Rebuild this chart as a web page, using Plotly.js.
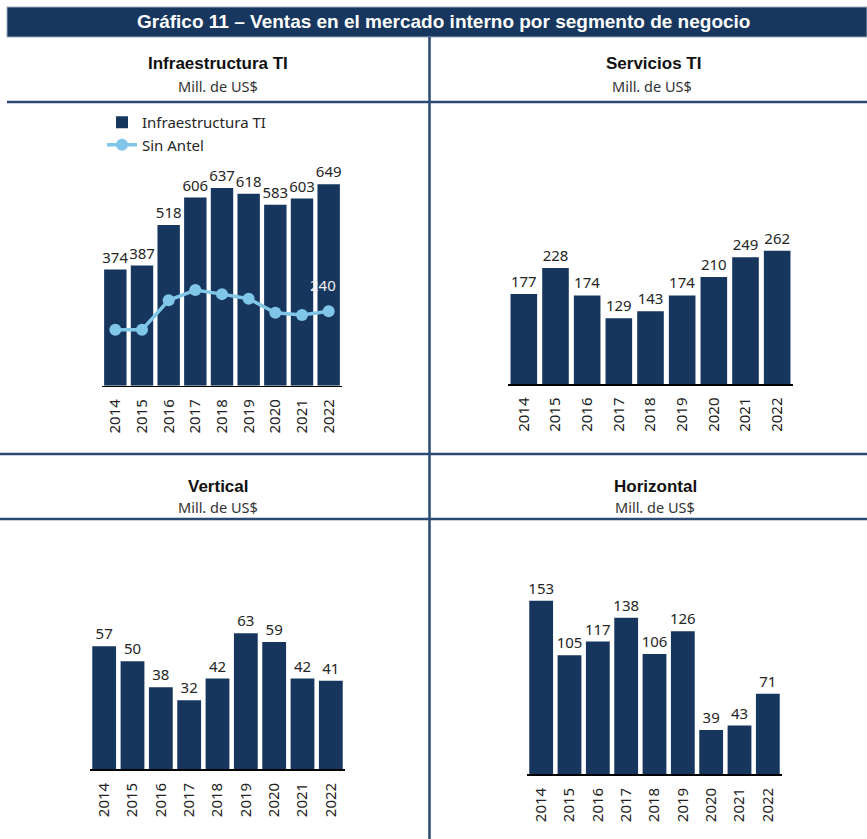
<!DOCTYPE html>
<html>
<head>
<meta charset="utf-8">
<script src="https://cdn.plot.ly/plotly-3.0.1.min.js"></script>
<style>html,body{margin:0;padding:0;background:#fff;}#chart{width:867px;height:839px;}</style>
</head>
<body>
<div id="chart"></div>
<script>
const years = ['2014','2015','2016','2017','2018','2019','2020','2021','2022'];
const infraTI = [374, 387, 518, 606, 637, 618, 583, 603, 649];
const sinAntel = [180, 180, 275, 308, 295, 280, 235, 228, 240];
const serviciosTI = [177, 228, 174, 129, 143, 174, 210, 249, 262];
const vertical = [57, 50, 38, 32, 42, 63, 59, 42, 41];
const horizontal = [153, 105, 117, 138, 106, 126, 39, 43, 71];

const W = 867, H = 839;
const X = p => p / W;
const Y = p => 1 - p / H;

const NAVY = '#17365D';
const LINEBLUE = '#80C6E8';
const TXT = '#262626';
const FONT = 'Noto Sans, sans-serif';
const BOLDF = 'Liberation Sans, Arial, sans-serif';

function barTrace(vals, xa, ya, name, showlegend) {
  return {
    type: 'bar', x: years, y: vals, name: name, xaxis: xa, yaxis: ya,
    marker: {color: NAVY, line: {width: 0}},
    text: vals.map(String), textposition: 'outside', constraintext: 'none',
    cliponaxis: false,
    textfont: {family: FONT, size: 15, color: TXT},
    showlegend: showlegend, hoverinfo: 'x+y'
  };
}

const traces = [
  barTrace(infraTI, 'x', 'y', 'Infraestructura TI', true),
  {
    type: 'scatter', mode: 'lines+markers', x: years, y: sinAntel, name: 'Sin Antel',
    xaxis: 'x', yaxis: 'y',
    line: {color: LINEBLUE, width: 3.5},
    marker: {color: LINEBLUE, size: 12},
    showlegend: true
  },
  barTrace(serviciosTI, 'x2', 'y2', 'Servicios TI', false),
  barTrace(vertical, 'x3', 'y3', 'Vertical', false),
  barTrace(horizontal, 'x4', 'y4', 'Horizontal', false)
];

function xax(x0, x1, anchor) {
  return {
    domain: [X(x0), X(x1)], anchor: anchor, type: 'category',
    range: [-0.5, years.length - 0.5], autorange: false,
    showline: true, linecolor: '#000', linewidth: 1.5,
    ticks: '', tickangle: -90, showgrid: false, zeroline: false,
    ticklabelstandoff: 6,
    tickfont: {family: FONT, size: 15, color: '#222'}, fixedrange: true
  };
}
function yax(top, bottom, max, anchor) {
  return {
    domain: [Y(bottom), Y(top)], anchor: anchor, range: [0, max],
    visible: false, showgrid: false, zeroline: false, fixedrange: true
  };
}

const lineShape = (x0, y0, x1, y1) => ({
  type: 'line', xref: 'paper', yref: 'paper',
  x0: X(x0), y0: Y(y0), x1: X(x1), y1: Y(y1),
  line: {color: '#2A4A74', width: 2.5}
});

const shapes = [
  {type: 'rect', xref: 'paper', yref: 'paper', x0: X(7), x1: X(867), y0: Y(37), y1: Y(7),
   fillcolor: '#17375E', line: {color: '#9AAAC0', width: 1}, layer: 'below'},
  lineShape(7, 102, 867, 102),
  lineShape(0, 454, 867, 454),
  lineShape(0, 519, 867, 519),
  lineShape(429.5, 37, 429.5, 839)
];

const ann = (text, x, y, size, bold, color, family) => ({
  xref: 'paper', yref: 'paper', x: X(x), y: Y(y), xanchor: 'center', yanchor: 'middle',
  showarrow: false, text: bold ? '<b>' + text + '</b>' : text,
  font: {family: family || FONT, size: size, color: color || TXT}
});

const last = years.length - 1;
const annotations = [
  ann('Gráfico 11 – Ventas en el mercado interno por segmento de negocio', 443, 22, 19, true, '#FFFFFF', BOLDF),
  ann('Infraestructura TI', 218, 64, 17, true, '#111', BOLDF),
  ann('Mill. de US$', 218, 86, 14.5, false, '#333', FONT),
  ann('Servicios TI', 653, 64, 17, true, '#111', BOLDF),
  ann('Mill. de US$', 652, 86, 14.5, false, '#333', FONT),
  ann('Vertical', 218, 486, 17, true, '#111', BOLDF),
  ann('Mill. de US$', 218, 507, 14.5, false, '#333', FONT),
  ann('Horizontal', 655, 486, 17, true, '#111', BOLDF),
  ann('Mill. de US$', 655, 507, 14.5, false, '#333', FONT),
  {
    xref: 'x', yref: 'y', x: last, y: sinAntel[last],
    text: String(sinAntel[last]), showarrow: false,
    yshift: 26, xshift: -6, font: {family: FONT, size: 15, color: '#F2F2F2'}
  }
];

const layout = {
  width: W, height: H, margin: {l: 0, r: 0, t: 0, b: 0},
  paper_bgcolor: '#fff', plot_bgcolor: 'rgba(0,0,0,0)',
  barmode: 'group', bargap: 0.16,
  showlegend: true,
  legend: {
    x: X(102), y: Y(106), xanchor: 'left', yanchor: 'top',
    bgcolor: 'rgba(0,0,0,0)', borderwidth: 0, tracegroupgap: 0,
    font: {family: FONT, size: 15, color: TXT}, itemwidth: 30
  },
  xaxis: xax(102, 342, 'y'),
  yaxis: yax(110, 385.7, 275.7 / 0.3104, 'x'),
  xaxis2: xax(508, 793, 'y2'),
  yaxis2: yax(110, 384, 274 / 0.509, 'x2'),
  xaxis3: xax(90, 345, 'y3'),
  yaxis3: yax(525, 769.3, 244.3 / 2.159, 'x3'),
  xaxis4: xax(527, 782, 'y4'),
  yaxis4: yax(525, 774.3, 249.3 / 1.135, 'x4'),
  shapes: shapes,
  annotations: annotations
};

Plotly.newPlot('chart', traces, layout, {displayModeBar: false, staticPlot: true});
</script>
</body>
</html>
